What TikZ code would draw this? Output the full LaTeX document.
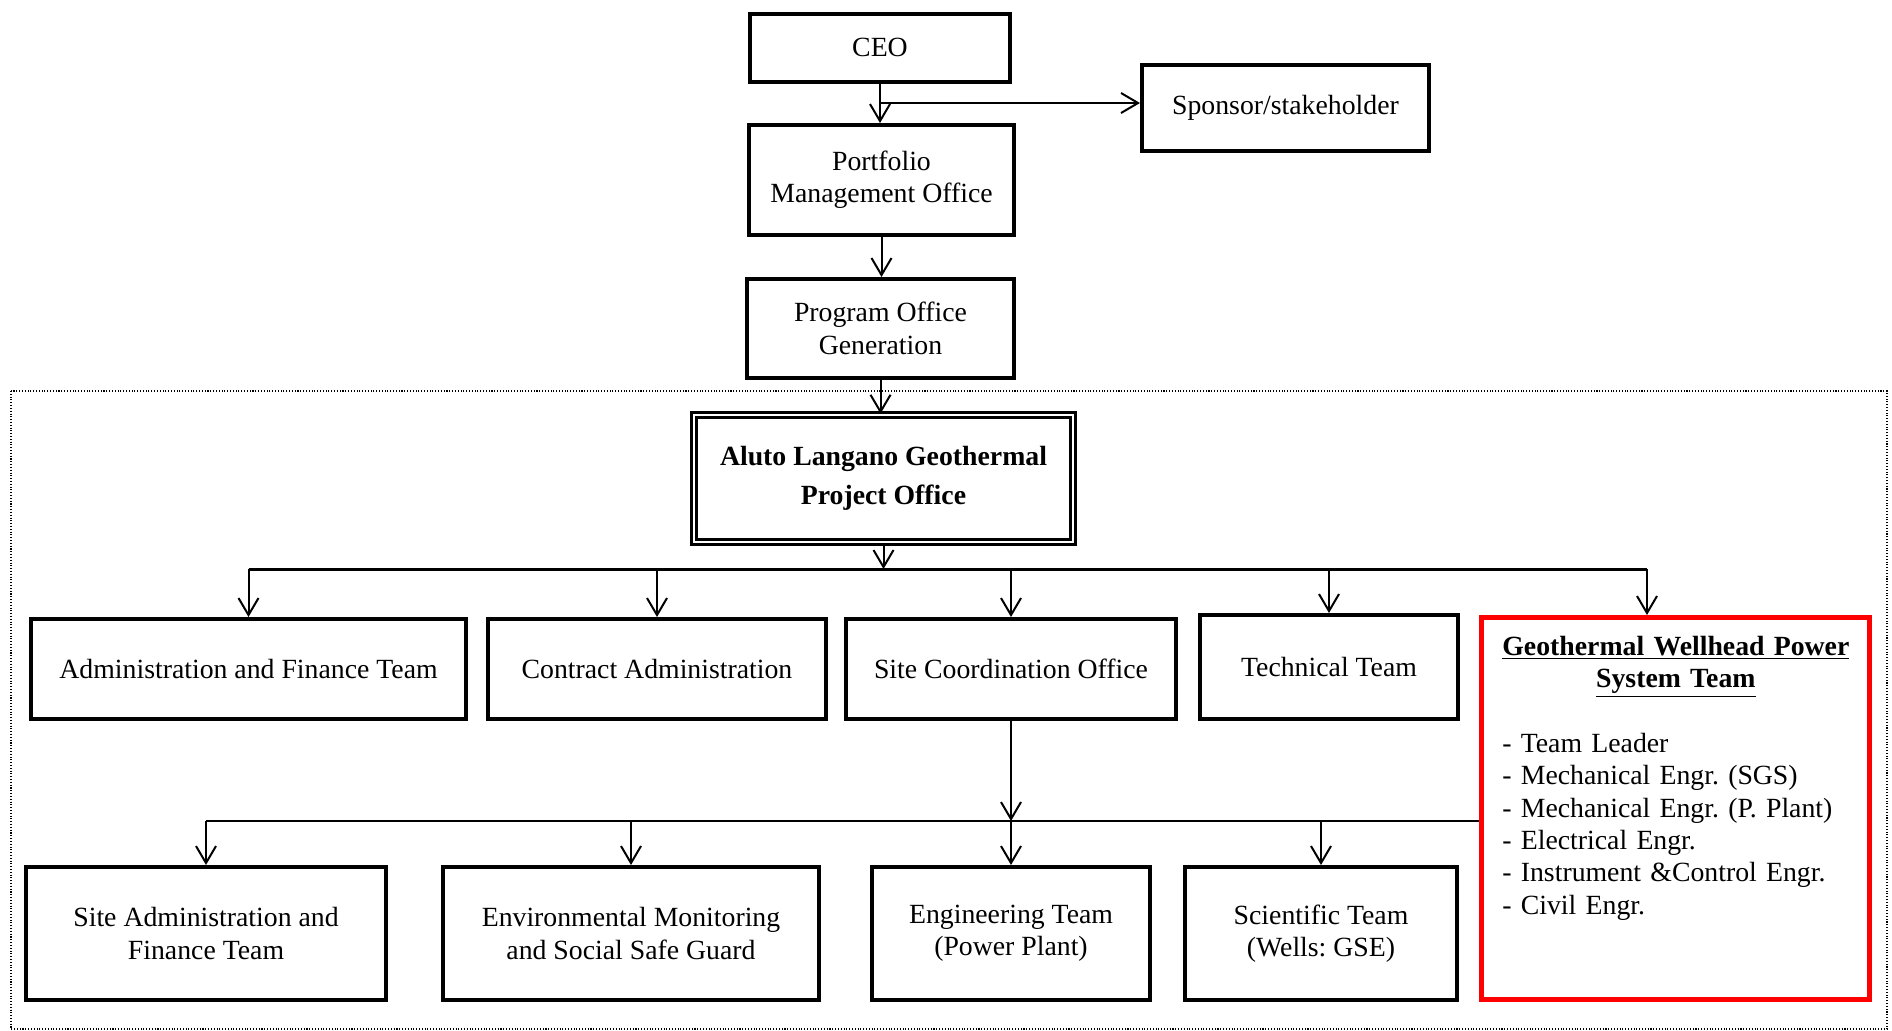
\documentclass[tikz,border=0pt]{standalone}
\usepackage{fontspec}
\setmainfont{Liberation Serif}
\usepackage{tikz}
\usetikzlibrary{arrows.meta}
\definecolor{TeamRed}{RGB}{255,0,0}
\frenchspacing

\begin{document}
\begin{tikzpicture}[
    x=1cm,y=1cm,
    orgbox/.style={draw=black, line width=0.08cm, align=center, inner sep=2pt, font=\fontsize{15.8}{18.4}\selectfont},
    projoffice/.style={draw=black, double, double distance=0.05cm, line width=0.05cm, align=center, font=\fontsize{15.8}{22}\selectfont\bfseries},
    teambox/.style={draw=TeamRed, line width=0.1cm},
    arrow/.style={-{Straight Barb[length=0.34cm, width=0.4cm]}, line width=0.04cm},
    bus/.style={line width=0.06cm},
    lowbusline/.style={line width=0.045cm}
  ]
    \useasboundingbox (0,0) rectangle (37.84,-20.6);
    % project frame
    \draw[densely dotted, line width=0.6pt] (0.22,-7.82) rectangle (37.74,-20.58);
    % top of the chain
    \node[orgbox, minimum width=5.2cm, minimum height=1.36cm] (ceo) at (17.6,-0.95) {CEO};
    \node[orgbox, minimum width=5.74cm, minimum height=1.72cm] (sponsor) at (25.71,-2.16) {Sponsor/stakeholder};
    \node[orgbox, minimum width=5.3cm, minimum height=2.2cm] (portfolio) at (17.63,-3.6) {Portfolio\\Management Office};
    \node[orgbox, minimum width=5.34cm, minimum height=1.98cm] (program) at (17.61,-6.57) {Program Office\\Generation};
    \node[projoffice, minimum width=7.58cm, minimum height=2.54cm] (aluto) at (17.67,-9.57) {Aluto Langano Geothermal\\Project Office};
    % teams
    \foreach \x/\y/\w/\h/\name/\lab in {4.97/-13.38/8.7/2.0/admin/Administration and Finance Team,
        13.14/-13.38/6.76/2.0/contract/Contract Administration,
        20.22/-13.38/6.6/2.0/sitecoord/Site Coordination Office,
        26.58/-13.34/5.16/2.08/technical/Technical Team} {
      \node[orgbox, minimum width=\w cm, minimum height=\h cm] (\name) at (\x,\y) {\lab};
    }
    \foreach \x/\w/\name/\lab in {4.12/7.2/siteadmin/{Site Administration and\\Finance Team},
        12.62/7.52/envmon/{Environmental Monitoring\\and Social Safe Guard},
        20.22/5.56/engteam/{Engineering Team\\(Power Plant)},
        26.42/5.44/sciteam/{Scientific Team\\(Wells: GSE)}} {
      \node[orgbox, minimum width=\w cm, minimum height=2.66cm] (\name) at (\x,-18.67) {\lab};
    }
    \node[teambox, minimum width=7.76cm, minimum height=7.64cm] (gwps) at (33.51,-16.17) {};
    \node[anchor=north west, inner sep=0pt, text width=6.94cm, align=left, font=\fontsize{15.8}{18.4}\selectfont] (gwpstext) at (30.04,-12.72) {\makebox[6.94cm]{\textbf{\underline{Geothermal Wellhead Power}}}\\
      \makebox[6.94cm]{\textbf{\underline{System Team}}}\\[18.4pt]
      - Team Leader\\
      - Mechanical Engr. (SGS)\\
      - Mechanical Engr. (P. Plant)\\
      - Electrical Engr.\\
      - Instrument \&Control Engr.\\
      - Civil Engr.};
    % connectors
    \draw[arrow] (ceo.south) -- (ceo.south |- portfolio.north);
    \coordinate (sponsorfork) at (0,-2.06);
    \draw[arrow] (ceo.south |- sponsorfork) -- (sponsor.west |- sponsorfork);
    \draw[arrow] (portfolio.south) -- (portfolio.south |- program.north);
    \draw[arrow] (program.south) -- (program.south |- aluto.north);
    \coordinate (topbus) at (0,-11.38);
    \coordinate (busend) at (32.94,-11.38);
    \draw[arrow] (aluto.south) -- (aluto.south |- topbus);
    \draw[bus] (admin.north |- topbus) -- (busend);
    \foreach \name in {admin,contract,sitecoord,technical} {
      \draw[arrow] (\name.north |- topbus) -- (\name.north);
    }
    \draw[arrow] (busend) -- (busend |- gwps.north);
    \coordinate (lowbus) at (0,-16.42);
    \draw[arrow] (sitecoord.south) -- (sitecoord.south |- lowbus);
    \draw[lowbusline] (siteadmin.north |- lowbus) -- (gwps.west |- lowbus);
    \foreach \name in {siteadmin,envmon,engteam,sciteam} {
      \draw[arrow] (\name.north |- lowbus) -- (\name.north);
    }
  \end{tikzpicture}
\end{document}
